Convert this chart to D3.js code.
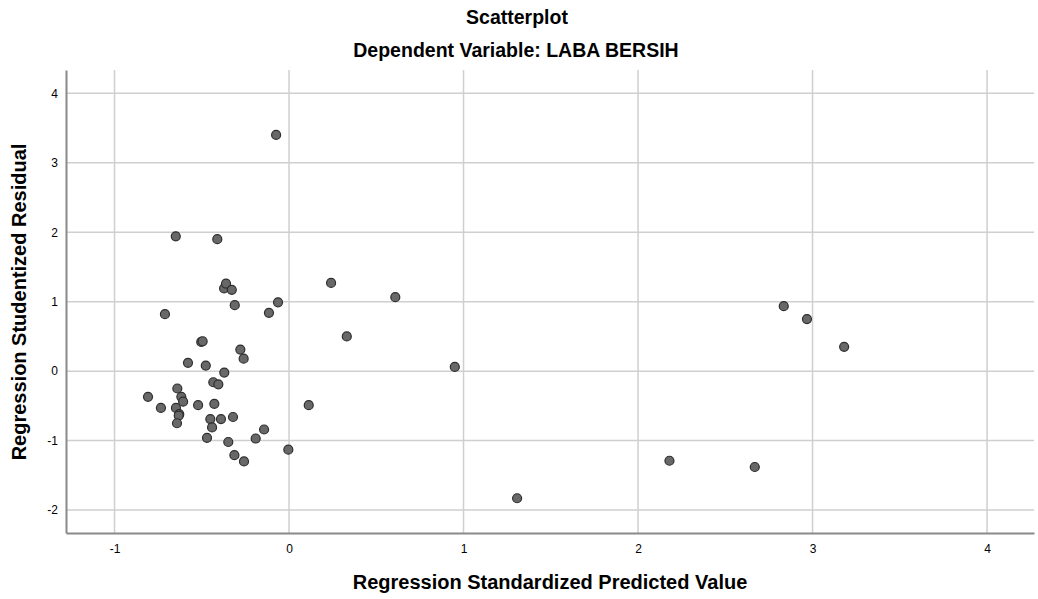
<!DOCTYPE html>
<html>
<head>
<meta charset="utf-8">
<script src="https://cdn.jsdelivr.net/npm/d3@7"></script>
<style>
  body { margin: 0; background: #fff; }
  svg text { font-family: "Liberation Sans", Arial, sans-serif; fill: #000; }
</style>
</head>
<body>
<div id="chart"></div>
<script>
// predicted (x) and studentized residual (y)
var predicted = [-0.808, -0.734, -0.711, -0.649, -0.640, -0.617, -0.607, -0.648, -0.629, -0.632,
                 -0.642, -0.579, -0.521, -0.503, -0.495, -0.477, -0.470, -0.451, -0.441, -0.434,
                 -0.405, -0.411, -0.428, -0.390, -0.372, -0.361, -0.328, -0.371, -0.348, -0.321,
                 -0.313, -0.311, -0.279, -0.260, -0.258, -0.191, -0.143, -0.115, -0.074, -0.063,
                 -0.004, 0.113, 0.241, 0.331, 0.609, 0.950, 1.307, 2.180, 2.669, 2.835, 2.968, 3.181];
var residual = [-0.37, -0.53, 0.82, 1.94, -0.25, -0.37, -0.44, -0.53, -0.62, -0.64,
                -0.75, 0.12, -0.49, 0.42, 0.43, 0.08, -0.96, -0.69, -0.81, -0.16,
                -0.19, 1.90, -0.47, -0.69, 1.19, 1.26, 1.17, -0.02, -1.02, -0.66,
                -1.21, 0.95, 0.31, 0.18, -1.30, -0.97, -0.84, 0.84, 3.40, 0.99,
                -1.13, -0.49, 1.27, 0.50, 1.065, 0.06, -1.83, -1.29, -1.38, 0.935, 0.75, 0.35];
var xTicks = [-1, 0, 1, 2, 3, 4];
var yTicks = [-2, -1, 0, 1, 2, 3, 4];

var width = 1038, height = 599;
var pLeft = 66, pRight = 1034, pTop = 70, pBottom = 533;

var svg = d3.select('#chart').append('svg')
    .attr('width', width)
    .attr('height', height);

var x = d3.scaleLinear().domain([-1.278, 4.269]).range([pLeft, pRight]);
var y = d3.scaleLinear().domain([-2.33, 4.335]).range([pBottom, pTop]);
var fmt = d => String(d);

// grid lines
svg.append('g').selectAll('line').data(xTicks).enter().append('line')
    .attr('x1', d => x(d)).attr('x2', d => x(d))
    .attr('y1', pTop).attr('y2', pBottom)
    .attr('stroke', '#cfcfcf').attr('stroke-width', 1.5);
svg.append('g').selectAll('line').data(yTicks).enter().append('line')
    .attr('x1', pLeft).attr('x2', pRight)
    .attr('y1', d => y(d)).attr('y2', d => y(d))
    .attr('stroke', '#cfcfcf').attr('stroke-width', 1.5);

// axes
var xAxis = d3.axisBottom(x).tickValues(xTicks).tickSize(0).tickPadding(9).tickFormat(fmt);
var yAxis = d3.axisLeft(y).tickValues(yTicks).tickSize(0).tickPadding(8).tickFormat(fmt);

svg.append('g').attr('transform', 'translate(0,' + pBottom + ')').call(xAxis)
    .call(g => g.select('.domain').attr('stroke', '#8a8a8a').attr('stroke-width', 2))
    .selectAll('text').style('font-size', '12px').attr('dy', '0.9em');
svg.append('g').attr('transform', 'translate(' + pLeft + ',0)').call(yAxis)
    .call(g => g.select('.domain').attr('stroke', '#8a8a8a').attr('stroke-width', 2))
    .selectAll('text').style('font-size', '12px');

// points
svg.append('g').selectAll('circle').data(predicted).enter().append('circle')
    .attr('cx', d => x(d))
    .attr('cy', (d, i) => y(residual[i]))
    .attr('r', 4.5)
    .attr('fill', '#686868')
    .attr('stroke', '#2e2e2e')
    .attr('stroke-width', 1.2);

// titles
svg.append('text').attr('x', 517).attr('y', 24).attr('text-anchor', 'middle')
    .style('font-size', '19.5px').style('font-weight', 'bold').text('Scatterplot');
svg.append('text').attr('x', 516).attr('y', 57).attr('text-anchor', 'middle')
    .style('font-size', '19.5px').style('font-weight', 'bold').text('Dependent Variable: LABA BERSIH');
svg.append('text').attr('x', 550).attr('y', 589).attr('text-anchor', 'middle')
    .style('font-size', '20px').style('font-weight', 'bold').text('Regression Standardized Predicted Value');
svg.append('text').attr('transform', 'translate(26,302) rotate(-90)').attr('text-anchor', 'middle')
    .style('font-size', '20px').style('font-weight', 'bold').text('Regression Studentized Residual');
</script>
</body>
</html>
